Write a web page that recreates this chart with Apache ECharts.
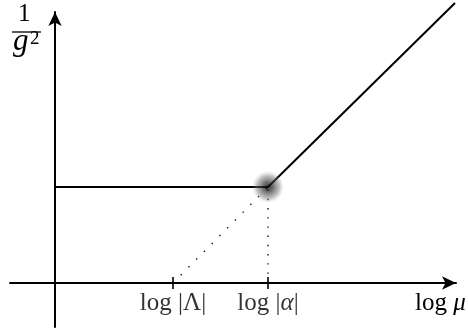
<!DOCTYPE html>
<html>
<head>
<meta charset="utf-8">
<script src="https://cdn.jsdelivr.net/npm/echarts@6/dist/echarts.min.js"></script>
<style>
    html, body { margin: 0; padding: 0; background: #fff; }
    #chart { width: 468px; height: 334px; }
</style>
</head>
<body>
<div id="chart"></div>
<script>
/* ------------------------------------ 数据 ------------------------------------ */
// x = log mu, y = 1/g^2 (任意单位)
const tickValues = [118, 213];                                  // log|Λ|, log|α|
const tickLabels = ['{t|log |Λ|}', '{t|log |}{i|α}{t||}'];
const plateauLine = [[0, 96], [213, 96]];                        // 平台
const risingLine = [[213, 96], [400, 280]];                      // 上升段
const extrapLine = [[118, 0], [213, 96]];                        // 虚线外推
const alphaDrop = [[213, 0], [213, 96]];                         // 竖直虚线
const blobPoint = [[213, 96]];

const serif = '"Liberation Serif", "DejaVu Serif", serif';

let richText = {
    t: { fontFamily: serif, fontSize: 25, lineHeight: 25, color: '#000' },
    i: { fontFamily: serif, fontSize: 25, lineHeight: 25, fontStyle: 'italic', color: '#000' },
    one: { fontFamily: serif, fontSize: 25, lineHeight: 25, color: '#000' },
    g: { fontFamily: serif, fontSize: 31, lineHeight: 31, fontStyle: 'italic', color: '#000' },
    sq: { fontFamily: serif, fontSize: 19, lineHeight: 19, color: '#000' }
};

let axisBase = {
    type: 'value',
    axisLine: {
        onZero: true,
        symbol: ['none', 'arrow'],
        symbolSize: [10, 14],
        lineStyle: { color: '#000', width: 2 }
    },
    axisTick: { show: false },
    axisLabel: { show: false },
    splitLine: { show: false }
};

let option = {
    animation: false,
    backgroundColor: '#fff',
    grid: { left: 10, right: 12, top: 12, bottom: 7, containLabel: false, outerBoundsMode: 'none' },
    xAxis: Object.assign({}, axisBase, { min: -45, max: 401 }),
    yAxis: Object.assign({}, axisBase, { min: -44, max: 271 }),
    graphic: [
        {
            type: 'text', left: 18, top: 2,
            style: { text: '{one|1}', rich: richText }
        },
        {
            type: 'line',
            shape: { x1: 12, y1: 32, x2: 41, y2: 32 },
            style: { stroke: '#000', lineWidth: 1.3 }
        },
        {
            type: 'text', left: 13, top: 26,
            style: { text: '{g|g}', rich: richText }
        },
        {
            type: 'text', left: 30, top: 30,
            style: { text: '{sq|2}', rich: richText }
        },
        {
            type: 'text', left: 415, top: 291,
            style: { text: '{t|log }{i|μ}', rich: richText }
        }
    ],
    series: [
        {
            type: 'line', data: plateauLine, symbol: 'none',
            lineStyle: { color: '#000', width: 2 }
        },
        {
            type: 'line', data: risingLine, symbol: 'none', clip: false,
            lineStyle: { color: '#000', width: 2 }
        },
        {
            type: 'line', data: extrapLine, symbol: 'none',
            lineStyle: { color: '#111', width: 1.4, type: [1.4, 9.6] }
        },
        {
            type: 'line', data: alphaDrop, symbol: 'none',
            lineStyle: { color: '#111', width: 1.4, type: [1.4, 7.8] }
        },
        {
            // 刻度线（穿过横轴）和刻度标签
            type: 'scatter',
            data: tickValues.map(v => [v, 0]),
            symbol: 'rect', symbolSize: [2, 12], z: 4,
            itemStyle: { color: '#000' },
            label: {
                show: true,
                position: 'bottom',
                distance: 2,
                formatter: p => tickLabels[p.dataIndex],
                rich: richText
            }
        },
        {
            type: 'scatter', data: blobPoint, symbolSize: 32, z: 5,
            itemStyle: {
                color: {
                    type: 'radial', x: 0.5, y: 0.5, r: 0.5,
                    colorStops: [
                        { offset: 0, color: 'rgba(0,0,0,0.95)' },
                        { offset: 0.3, color: 'rgba(40,40,40,0.85)' },
                        { offset: 0.7, color: 'rgba(110,110,110,0.55)' },
                        { offset: 1, color: 'rgba(180,180,180,0)' }
                    ]
                }
            }
        }
    ]
};

echarts.init(document.querySelector('#chart')).setOption(option);
</script>
</body>
</html>
